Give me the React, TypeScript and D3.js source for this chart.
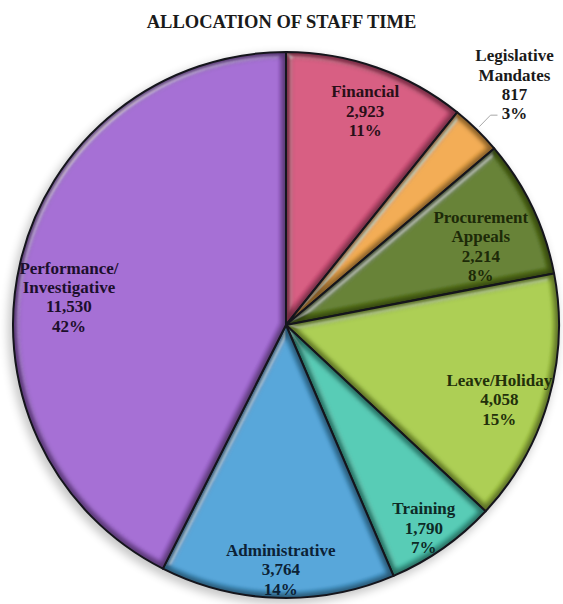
import { pie, arc, PieArcDatum, format } from "d3";

// staff hours by activity, clockwise from 12 o'clock
const categories = [
  "Financial",
  "Legislative Mandates",
  "Procurement Appeals",
  "Leave/Holiday",
  "Training",
  "Administrative",
  "Performance/ Investigative",
];
const hours = [2923, 817, 2214, 4058, 1790, 3764, 11530];
const percents = ["11%", "3%", "8%", "15%", "7%", "14%", "42%"];
// how each category name is broken over lines
const labelLines = [
  ["Financial"],
  ["Legislative", "Mandates"],
  ["Procurement", "Appeals"],
  ["Leave/Holiday"],
  ["Training"],
  ["Administrative"],
  ["Performance/", "Investigative"],
];
const colors = ["#d4527b", "#f0a848", "#5d7b1f", "#a7cb46", "#4cc8b1", "#4ba1d6", "#a066d1"];
const textColors = ["#2a0f18", "#1e1a10", "#1d2a08", "#22300a", "#0e2a26", "#0c2236", "#1c0f2c"];

type Row = { name: string; value: number; pct: string; lines: string[]; i: number };
const rows: Row[] = categories.map((name, i) => ({
  name,
  value: hours[i],
  pct: percents[i],
  lines: labelLines[i],
  i,
}));

const W = 563;
const H = 604;
const cx = 286;
const cy = 325;
const R = 273;
const lineH = 19.3;
const fontSize = 17;
// hand-placed label nudges (px), as in the original
const nudge: [number, number][] = [
  [3, 3],
  [0, 7],
  [-12, 21],
  [-7, 12],
  [6, 16],
  [2, 16],
  [6, 26],
];
const fmt = format(",");

export default function App() {
  const arcs = pie<Row>()
    .value((d) => d.value)
    .sort(null)(rows);

  const sliceArc = arc<PieArcDatum<Row>>().innerRadius(0).outerRadius(R);
  const labelArc = arc<PieArcDatum<Row>>().innerRadius(R * 0.84).outerRadius(R * 0.84);
  const leadIn = arc<PieArcDatum<Row>>().innerRadius(R + 4).outerRadius(R + 4);
  const leadOut = arc<PieArcDatum<Row>>().innerRadius(R + 20).outerRadius(R + 20);

  return (
    <svg
      width={W}
      height={H}
      style={{ position: "absolute", left: 0, top: 0, background: "#fff" }}
      fontFamily="'Liberation Serif', 'Times New Roman', serif"
      fontWeight="bold"
    >
      <defs>
        <filter id="soft" x="-20%" y="-20%" width="140%" height="140%">
          <feGaussianBlur stdDeviation="5" />
        </filter>
        <filter id="inner" x="-10%" y="-10%" width="120%" height="120%">
          <feGaussianBlur stdDeviation="2.5" />
        </filter>
        <filter id="bevel" x="-5%" y="-5%" width="110%" height="110%">
          <feGaussianBlur in="SourceAlpha" stdDeviation="3" result="b" />
          <feSpecularLighting
            in="b"
            surfaceScale="4"
            specularConstant="0.8"
            specularExponent="28"
            lightingColor="#ffffff"
            result="s"
          >
            <feDistantLight azimuth="225" elevation="38" />
          </feSpecularLighting>
          <feComposite in="s" in2="SourceAlpha" operator="in" result="s2" />
          <feComposite in="SourceGraphic" in2="s2" operator="arithmetic" k1="0" k2="1" k3="0.7" k4="0" />
        </filter>
        {arcs.map((a, i) => (
          <clipPath id={`clip${i}`} key={i}>
            <path d={sliceArc(a) ?? ""} />
          </clipPath>
        ))}
      </defs>

      <text x={W / 2} y={28} textAnchor="middle" fontSize={18.5} fill="#1a1a1a">
        ALLOCATION OF STAFF TIME
      </text>

      <g transform={`translate(${cx},${cy})`}>
        {/* soft shadow under the pie */}
        <circle cx={-3} cy={4} r={R + 2} fill="#000" opacity={0.22} filter="url(#soft)" />

        {arcs.map((a, i) => (
          <g key={i}>
            <path d={sliceArc(a) ?? ""} fill={colors[i]} filter="url(#bevel)" />
            <path
              d={sliceArc(a) ?? ""}
              fill="none"
              stroke="#000"
              strokeOpacity={0.45}
              strokeWidth={9}
              clipPath={`url(#clip${i})`}
              filter="url(#inner)"
            />
            <path d={sliceArc(a) ?? ""} fill="none" stroke="#15151c" strokeWidth={2} strokeLinejoin="round" />
          </g>
        ))}

        {arcs.map((a, i) => {
          const d = a.data;
          const all = [...d.lines, fmt(d.value), d.pct];
          const [nx, ny] = nudge[i];
          if (d.value < 1000) {
            // small slice: label sits outside with a leader
            const [x0, y0] = leadIn.centroid(a);
            const [x1, y1] = leadOut.centroid(a);
            const x2 = x1 + 7;
            const tx = x2 + 17 + nx;
            const top = y1 - 3 - (all.length - 1) * lineH + ny;
            return (
              <g key={i}>
                <polyline
                  points={`${x0},${y0} ${x1},${y1} ${x2},${y1}`}
                  fill="none"
                  stroke="#a8a8a8"
                  strokeWidth={1}
                />
                <text textAnchor="middle" fontSize={fontSize} fill="#1a1a1a">
                  {all.map((t, k) => (
                    <tspan key={k} x={tx} y={top + k * lineH}>
                      {t}
                    </tspan>
                  ))}
                </text>
              </g>
            );
          }
          const [lx, ly] = labelArc.centroid(a);
          const top = ly - ((all.length - 1) * lineH) / 2 + 5 + ny;
          return (
            <text key={i} textAnchor="middle" fontSize={fontSize} fill={textColors[i]}>
              {all.map((t, k) => (
                <tspan key={k} x={lx + nx} y={top + k * lineH}>
                  {t}
                </tspan>
              ))}
            </text>
          );
        })}
      </g>
    </svg>
  );
}
